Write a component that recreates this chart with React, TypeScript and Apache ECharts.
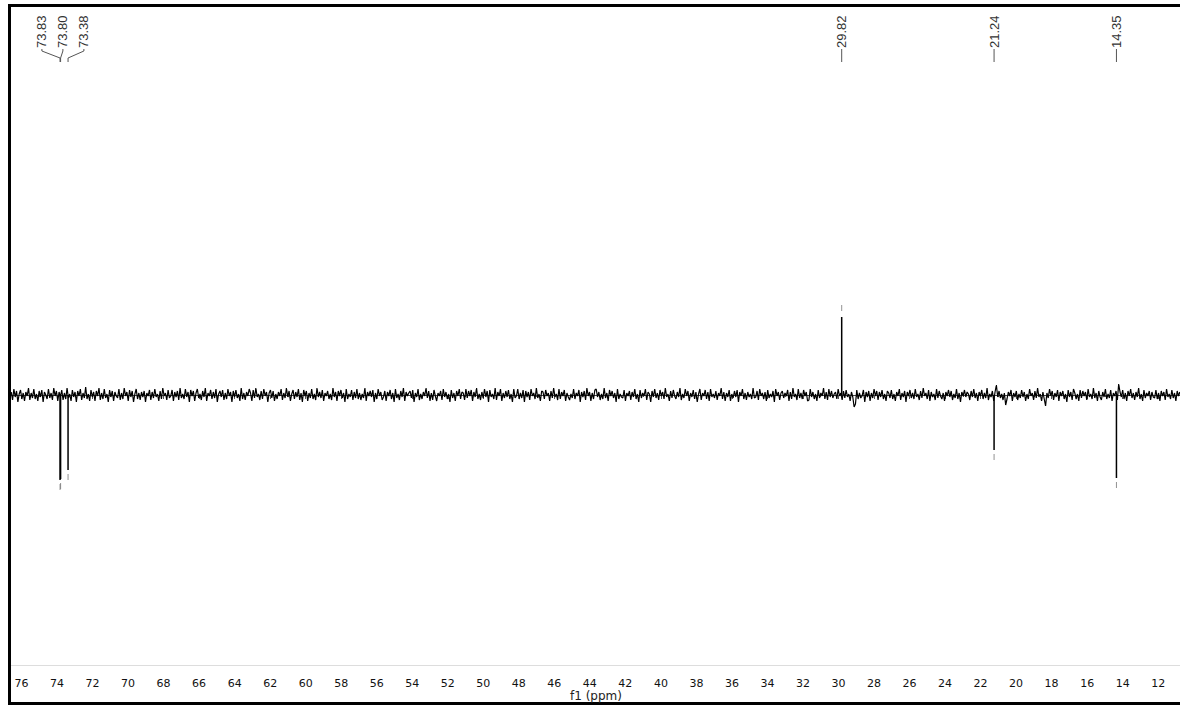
import { useEffect, useRef } from "react";
import * as echarts from "echarts";

// x axis (ppm), reversed
const AXIS_MIN = 10;
const AXIS_MAX = 78;
const AXIS_INTERVAL = 2;

// sampled spectrum baseline (noise), uniformly sampled from NOISE_START to NOISE_END ppm
const NOISE_START = 76.58;
const NOISE_END = 10.78;
const noise = [
  3, -5, 6, -2, 4, -7, 1, 5, -4, 2, -6, 3, -1, 7, -5, 2, -3, 6, -4, 1,
  -6, 4, -2, 5, -7, 3, 0, -4, 6, -3, 2, -5, 7, -1, 4, -6, 3, -2, 5, -5,
  2, -4, 7, -3, 1, -6, 5, -2, 3, -7, 4, -1, 6, -5, 2, -3, 8, -4, 1, -6,
  5, -2, 3, -6, 4, -1, 7, -5, 2, -4, 6, -3, 1, -7, 5, -2, 4, -6, 3, -1,
  -3, 6, -5, 2, -4, 7, -1, 3, -6, 5, -2, 4, -7, 1, 6, -4, 2, -5, 3, -2,
  4, -7, 2, -1, 5, -5, 3, -3, 6, -2, 1, -6, 4, -4, 7, -1, 2, -5, 5, -3,
  -1, 5, -6, 3, -2, 4, -5, 7, -3, 1, -4, 6, -2, 3, -7, 5, -1, 4, -6, 2,
  6, -3, 1, -5, 4, -2, 7, -6, 2, -1, 5, -4, 3, -3, 6, -7, 1, 4, -2, 5,
  -5, 2, -4, 6, -1, 3, -7, 4, -2, 5, -3, 1, -6, 7, -4, 2, -5, 3, -1, 6,
  2, -6, 5, -3, 7, -2, 1, -5, 4, -4, 6, -1, 3, -7, 2, 5, -3, 4, -6, 1,
  -4, 3, -1, 6, -5, 2, -3, 7, -2, 4, -6, 1, 5, -4, 3, -2, 6, -5, 2, -7,
  5, -1, 4, -6, 2, -3, 6, -4, 1, -5, 7, -2, 3, -3, 5, -6, 2, -1, 4, -4,
  1, -5, 7, -2, 3, -6, 4, -1, 5, -3, 2, -7, 6, -4, 1, -2, 5, -5, 3, -3,
  6, -4, 2, -5, 1, -3, 7, -6, 3, -1, 4, -2, 5, -7, 2, -4, 6, -1, 3, -5,
  -2, 4, -6, 3, -1, 5, -4, 2, -7, 6, -3, 1, -5, 4, -2, 7, -6, 3, -1, 2,
  4, -3, 5, -7, 2, -2, 6, -5, 1, -4, 3, -1, 7, -3, 4, -6, 2, -5, 5, -1,
  -6, 2, -1, 4, -5, 6, -2, 3, -4, 1, -7, 5, -3, 2, -6, 4, -1, 6, -4, 3,
  2, -5, 6, -3, 4, -1, 5, -6, 3, -2, 7, -4, 1, -5, 3, -3, 6, -2, 4, -7,
  5, -2, 1, -4, 7, -5, 3, -1, 6, -6, 2, -3, 4, -2, 5, -4, 1, -7, 6, -3,
  -1, 6, -4, 2, -3, 5, -7, 4, -2, 3, -5, 6, -1, 2, -4, 7, -3, 1, -6, 4,
  3, -4, 5, -1, 2, -6, 4, -3, 7, -2, 1, -5, 6, -4, 3, -1, 5, -6, 2, -2,
  -5, 1, -3, 6, -4, 2, -1, 5, -7, 3, -2, 4, -5, 7, -1, 3, -6, 2, -4, 5,
  6, -2, 3, -5, 1, -4, 7, -3, 2, -6, 5, -1, 4, -3, 2, -7, 6, -4, 1, -2,
  -3, 5, -6, 2, -1, 4, -5, 3, -2, 6, -4, 1, -7, 5, -3, 2, -1, 6, -5, 3,
  1, -7, 4, -2, 6, -3, 2, -5, 5, -1, 3, -4, 7, -2, 1, -6, 4, -3, 5, -1,
  -4, 3, -2, 7, -5, 1, -3, 6, -1, 4, -6, 2, -2, 5, -4, 3, -7, 1, 6, -5,
  2, -1, 5, -4, 3, -6, 6, -2, 1, -3, 4, -5, 2, -1, 7, -4, 3, -6, 2, -2,
  5, -6, 1, -3, 4, -2, 5, -7, 3, -1, 6, -4, 2, -5, 3, -2, 1, -4, 7, -3,
  -2, 4, -5, 6, -1, 2, -4, 3, -6, 5, -3, 1, -2, 4, -7, 6, -1, 3, -5, 2,
  4, -3, 2, -1, 5, -6, 3, -4, 7, -2, 1, -5, 6, -3, 2, -4, 5, -1, 3, -6,
  -5, 6, -2, 3, -4, 1, -6, 5, -3, 2, -1, 7, -4, 3, -5, 6, -2, 4, -3, 1,
  3, -4, 6, -1, 2, -5, 4, -3, 5, -2, 1, -6, 3, -2, -12, -9, 5, -4, 2, -3,
  -1, 5, -7, 3, -2, 4, -6, 2, -3, 6, -1, 4, -5, 3, -2, 5, -4, 1, -6, 4,
  2, -3, 5, -4, 1, -6, 3, -1, 6, -5, 2, -2, 4, -7, 3, -1, 5, -3, 2, -4,
  6, -2, 1, -5, 4, -3, 7, -1, 2, -4, 5, -6, 3, -2, 1, -5, 6, -3, 4, -1,
  -4, 2, -6, 3, -1, 5, -2, 4, -5, 1, -3, 6, -4, 2, -7, 3, -1, 5, -2, 3,
  1, -5, 4, -2, 6, -3, 2, -6, 3, -1, 5, -4, 2, -3, 7, -5, 1, -2, 4, -6,
  3, 10, -2, 4, -3, 1, -5, 2, -10, -4, 3, -1, 5, -6, 2, -2, 4, -5, 1, -3,
  5, -2, 3, -6, 1, -4, 6, -1, 2, -5, 4, -3, 7, -2, 1, -6, 3, -4, -11, 2,
  -3, 6, -1, 4, -5, 2, -2, 5, -6, 3, -1, 4, -4, 1, -7, 5, -2, 3, -5, 6,
  2, -4, 1, -6, 5, -3, 4, -1, 3, -5, 6, -2, 1, -4, 7, -3, 2, -6, 4, -2,
  -5, 3, -2, 6, -4, 1, -3, 5, -6, 2, -1, 4, -5, 11, 3, -2, 5, -4, 2, -6,
  4, -1, 6, -3, 2, -5, 3, -2, 7, -4, 1, -6, 5, -3, 2, -1, 4, -5, 3, -2,
  -3, 5, -4, 2, -6, 4, -1, 3, -5, 6, -2, 1, -4, 5, -3, 2, -6, 4, -1, 3,
];

// picked peaks
const peakPpm = [73.83, 73.8, 73.38, 29.82, 21.24, 14.35];
const peakIntensity = [-85, -84, -75, 78, -55, -83];
const peakLabels = ["73.83", "73.80", "73.38", "29.82", "21.24", "14.35"];

const AXIS_NAME = "f1 (ppm)";

export default function App() {
  const ref = useRef<HTMLDivElement>(null);

  useEffect(() => {
    document.body.style.margin = "0";
    const chart = echarts.init(ref.current!, null, { renderer: "svg" });
    const step = (NOISE_START - NOISE_END) / (noise.length - 1);
    const noiseData = noise.map((v, i) => [NOISE_START - i * step, v]);

    const peakSeries = peakPpm.map((p, i) => ({
      type: "line",
      data: [
        [p, 0],
        [p, peakIntensity[i]],
      ],
      symbol: "none",
      silent: true,
      lineStyle: { color: "#000", width: 1.5 },
      z: 3,
    }));

    chart.setOption({
      animation: false,
      grid: { left: -14, right: -13.7, top: 5, bottom: 37, outerBoundsMode: "none" },
      xAxis: {
        type: "value",
        min: AXIS_MIN,
        max: AXIS_MAX,
        interval: AXIS_INTERVAL,
        inverse: true,
        axisLine: { lineStyle: { color: "#444", width: 1 } },
        axisTick: { length: 4, lineStyle: { color: "#555" } },
        minorTick: { show: true, splitNumber: 2, length: 2, lineStyle: { color: "#555" } },
        axisLabel: {
          fontFamily: "DejaVu Sans",
          fontSize: 11,
          color: "#111",
          margin: 9,
          showMaxLabel: false,
          showMinLabel: false,
        },
        splitLine: { show: false },
        minorSplitLine: { show: false },
      },
      yAxis: { type: "value", min: -274, max: 390, show: false },
      series: [
        {
          type: "line",
          data: noiseData,
          symbol: "none",
          silent: true,
          lineStyle: { color: "#000", width: 1.2 },
          z: 2,
        },
        ...peakSeries,
        {
          type: "scatter",
          symbol: "rect",
          symbolSize: [1, 6],
          silent: true,
          itemStyle: { color: "#777" },
          data: peakPpm.map((p, i) => ({
            value: [p, peakIntensity[i]],
            symbolOffset: [0, peakIntensity[i] > 0 ? -9 : 7],
          })),
          z: 4,
        },
      ],
    });

    // peak labels layout
    const px = (v: number) => chart.convertToPixel({ xAxisIndex: 0 }, v) as number;
    const items = peakPpm
      .map((p, i) => ({ px: px(p), label: peakLabels[i], lx: 0 }))
      .sort((a, b) => a.px - b.px);
    const SPACING = 21;
    const clusters: (typeof items)[] = [];
    items.forEach((it) => {
      const last = clusters[clusters.length - 1];
      if (last && it.px - last[last.length - 1].px < SPACING) last.push(it);
      else clusters.push([it]);
    });
    clusters.forEach((c) => {
      const mean = c.reduce((s, it) => s + it.px, 0) / c.length;
      c.forEach((it, k) => {
        it.lx = mean + (k - (c.length - 1) / 2) * SPACING;
      });
    });

    const graphics: any[] = [];
    items.forEach((it) => {
      graphics.push({
        type: "text",
        x: it.lx,
        y: 48,
        rotation: Math.PI / 2,
        z: 100,
        style: {
          text: it.label,
          fontFamily: "Liberation Sans",
          fontSize: 13,
          fill: "#333",
          align: "left",
          verticalAlign: "middle",
        },
      });
      if (Math.abs(it.lx - it.px) < 0.5) {
        graphics.push({
          type: "line",
          z: 100,
          shape: { x1: it.px, y1: 49, x2: it.px, y2: 62 },
          style: { stroke: "#555", lineWidth: 1 },
        });
      } else {
        graphics.push({
          type: "polyline",
          z: 100,
          shape: {
            points: [
              [it.lx, 49],
              [it.lx, 51],
              [it.px, 58],
              [it.px, 62],
            ],
          },
          style: { stroke: "#555", lineWidth: 1, fill: null },
        });
      }
    });

    graphics.push(
      { type: "rect", z: 100, shape: { x: 0, y: 0, width: 8, height: 706 }, style: { fill: "#fff" } },
      { type: "line", z: 100, shape: { x1: 11, y1: 665.5, x2: 1180, y2: 665.5 }, style: { stroke: "#ddd", lineWidth: 1 } },
      { type: "rect", z: 101, shape: { x: 8, y: 4, width: 1172, height: 3 }, style: { fill: "#000" } },
      { type: "rect", z: 101, shape: { x: 8, y: 4, width: 3, height: 701 }, style: { fill: "#000" } },
      { type: "rect", z: 101, shape: { x: 8, y: 702, width: 1172, height: 3 }, style: { fill: "#000" } },
      {
        type: "text",
        z: 102,
        x: 596,
        y: 690,
        style: {
          text: AXIS_NAME,
          fontFamily: "DejaVu Sans",
          fontSize: 12,
          fill: "#222",
          align: "center",
          verticalAlign: "top",
        },
      }
    );

    chart.setOption({ graphic: graphics });

    return () => chart.dispose();
  }, []);

  return <div ref={ref} style={{ width: 1180, height: 706 }} />;
}
